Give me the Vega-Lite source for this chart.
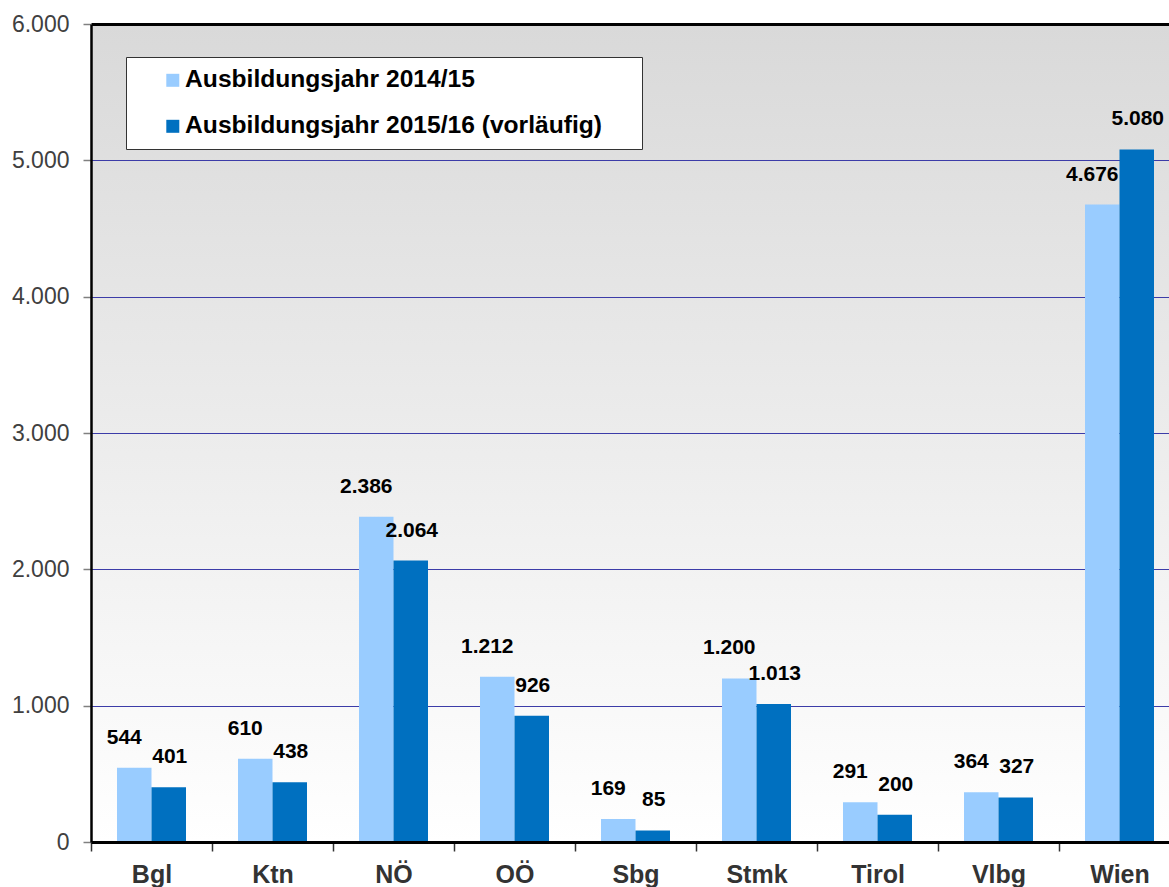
{
  "$schema": "https://vega.github.io/schema/vega-lite/v6.json",
  "autosize": {"type": "none"},
  "width": 1078,
  "height": 818,
  "padding": {"left": 91, "top": 24, "right": 0, "bottom": 45},
  "background": "white",
  "config": {
    "font": "Liberation Sans",
    "locale": {"number": {"decimal": ",", "thousands": ".", "grouping": [3], "currency": ["", " €"]}},
    "view": {
      "stroke": null,
      "fill": {"gradient": "linear", "x1": 0, "y1": 0, "x2": 0, "y2": 1,
        "stops": [{"offset": 0, "color": "#d9d9d9"}, {"offset": 1, "color": "#ffffff"}]}
    },
    "legend": {
      "orient": "none",
      "legendX": 35,
      "legendY": 33,
      "fillColor": "white",
      "strokeColor": "#333333",
      "strokeWidth": 1,
      "padding": 11,
      "symbolType": "square",
      "symbolSize": 169,
      "symbolStrokeWidth": 0,
      "symbolOffset": 23.5,
      "labelOffset": 0,
      "labelFont": "Liberation Sans",
      "labelFontSize": 24.6,
      "labelFontWeight": "bold",
      "labelColor": "black",
      "labelLimit": 1000,
      "rowPadding": 21,
      "titleOrient": "right",
      "titleFontSize": 24,
      "titlePadding": 9,
      "titleOpacity": 0
    }
  },
  "data": {
    "values": [
      {"region": "Bgl", "series": "Ausbildungsjahr 2014/15", "value": 544},
      {"region": "Bgl", "series": "Ausbildungsjahr 2015/16 (vorläufig)", "value": 401},
      {"region": "Ktn", "series": "Ausbildungsjahr 2014/15", "value": 610},
      {"region": "Ktn", "series": "Ausbildungsjahr 2015/16 (vorläufig)", "value": 438},
      {"region": "NÖ", "series": "Ausbildungsjahr 2014/15", "value": 2386},
      {"region": "NÖ", "series": "Ausbildungsjahr 2015/16 (vorläufig)", "value": 2064},
      {"region": "OÖ", "series": "Ausbildungsjahr 2014/15", "value": 1212},
      {"region": "OÖ", "series": "Ausbildungsjahr 2015/16 (vorläufig)", "value": 926},
      {"region": "Sbg", "series": "Ausbildungsjahr 2014/15", "value": 169},
      {"region": "Sbg", "series": "Ausbildungsjahr 2015/16 (vorläufig)", "value": 85},
      {"region": "Stmk", "series": "Ausbildungsjahr 2014/15", "value": 1200},
      {"region": "Stmk", "series": "Ausbildungsjahr 2015/16 (vorläufig)", "value": 1013},
      {"region": "Tirol", "series": "Ausbildungsjahr 2014/15", "value": 291},
      {"region": "Tirol", "series": "Ausbildungsjahr 2015/16 (vorläufig)", "value": 200},
      {"region": "Vlbg", "series": "Ausbildungsjahr 2014/15", "value": 364},
      {"region": "Vlbg", "series": "Ausbildungsjahr 2015/16 (vorläufig)", "value": 327},
      {"region": "Wien", "series": "Ausbildungsjahr 2014/15", "value": 4676},
      {"region": "Wien", "series": "Ausbildungsjahr 2015/16 (vorläufig)", "value": 5080}
    ]
  },
  "encoding": {
    "x": {
      "field": "region", "type": "nominal", "sort": null,
      "scale": {"range": [0, 1089], "paddingInner": 0, "paddingOuter": 0},
      "axis": {
        "title": null, "labelAngle": 0, "labelFontSize": 25, "labelFontWeight": "bold",
        "labelColor": "#333333", "tickBand": "extent", "tickSize": 9, "tickColor": "#333333",
        "tickWidth": 1.5, "domainColor": "black", "domainWidth": 3, "labelPadding": 11,
        "grid": false, "zindex": 1
      }
    },
    "xOffset": {"field": "series", "type": "nominal", "sort": null, "scale": {"paddingInner": 0, "paddingOuter": 0.7536}},
    "y": {
      "field": "value", "type": "quantitative",
      "scale": {"domain": [0, 6000], "nice": false},
      "axis": {
        "title": null, "values": [0, 1000, 2000, 3000, 4000, 5000, 6000], "format": ",d",
        "labelFontSize": 23, "labelColor": "#404040", "tickSize": 8, "tickColor": "#808080",
        "tickWidth": 1.5, "domainColor": "black", "domainWidth": 2.5, "labelPadding": 14,
        "grid": true,
        "gridColor": {"condition": {"test": "datum.value === 6000", "value": "black"}, "value": "#3c3ca8"},
        "gridWidth": {"condition": {"test": "datum.value === 6000", "value": 3}, "value": 1},
        "gridOpacity": 1
      }
    }
  },
  "layer": [
    {
      "mark": {"type": "bar"},
      "encoding": {
        "color": {
          "field": "series", "type": "nominal", "sort": null,
          "scale": {"domain": ["Ausbildungsjahr 2014/15", "Ausbildungsjahr 2015/16 (vorläufig)"], "range": ["#99ccff", "#0070c0"]},
          "legend": {"title": "M"}
        }
      }
    },
    {
      "transform": [{"filter": "datum.series === 'Ausbildungsjahr 2014/15'"}],
      "mark": {"type": "text", "dx": -10, "dy": -30, "baseline": "middle", "align": "center", "fontSize": 21, "fontWeight": "bold", "color": "black"},
      "encoding": {"text": {"field": "value", "type": "quantitative", "format": ",d"}}
    },
    {
      "transform": [{"filter": "datum.series !== 'Ausbildungsjahr 2014/15'"}],
      "mark": {"type": "text", "dx": 1, "dy": -30, "baseline": "middle", "align": "center", "fontSize": 21, "fontWeight": "bold", "color": "black"},
      "encoding": {"text": {"field": "value", "type": "quantitative", "format": ",d"}}
    }
  ]
}
